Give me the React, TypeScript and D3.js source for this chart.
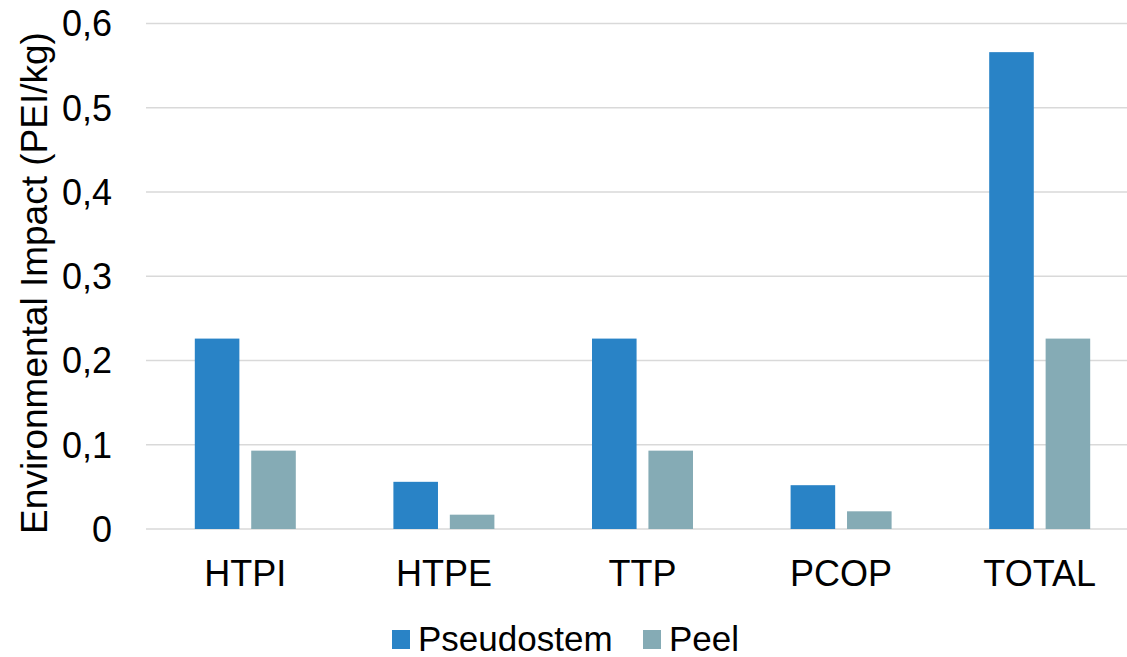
import React from "react";
import * as d3 from "d3";

const categories = ["HTPI", "HTPE", "TTP", "PCOP", "TOTAL"];
const seriesNames = ["Pseudostem", "Peel"];
const pseudostem = [0.226, 0.056, 0.226, 0.052, 0.566];
const peel = [0.093, 0.017, 0.093, 0.021, 0.226];
const yTicks = [0, 0.1, 0.2, 0.3, 0.4, 0.5, 0.6];
const colors = ["#2983C6", "#85ABB5"];

const W = 1127;
const H = 657;
const FONT = "'Liberation Sans', Arial, sans-serif";

export default function App() {
  const plotLeft = 146;
  const plotRight = 1139;
  const y = d3.scaleLinear().domain([0, 0.6]).range([529, 23.5]);
  const x0 = d3.scaleBand<string>().domain(categories).range([plotLeft, plotRight]).padding(0);
  const groupW = 101;
  const x1 = d3.scaleBand<string>().domain(seriesNames).range([0, groupW]).paddingInner(0.21);
  const values = [pseudostem, peel];
  const fmt = (v: number) => (v === 0 ? "0" : d3.format(".1f")(v).replace(".", ","));

  return (
    <svg
      width={W}
      height={H}
      style={{ position: "absolute", left: 0, top: 0, background: "#fff" }}
      fontFamily={FONT}
    >
      {/* horizontal gridlines */}
      {yTicks.map((t) => (
        <line
          key={"g" + t}
          x1={plotLeft}
          x2={W}
          y1={y(t)}
          y2={y(t)}
          stroke="#D9D9D9"
          strokeWidth={1.5}
        />
      ))}
      {/* y tick labels */}
      {yTicks.map((t) => (
        <text
          key={"t" + t}
          x={112}
          y={y(t)}
          dy="0.36em"
          textAnchor="end"
          fontSize={36}
          fill="#000"
        >
          {fmt(t)}
        </text>
      ))}
      {/* bars */}
      {categories.map((c, i) => {
        const center = (x0(c) as number) + x0.bandwidth() / 2;
        return seriesNames.map((s, j) => {
          const v = values[j][i];
          return (
            <rect
              key={c + s}
              x={center - groupW / 2 + (x1(s) as number)}
              y={y(v)}
              width={x1.bandwidth()}
              height={y(0) - y(v)}
              fill={colors[j]}
            />
          );
        });
      })}
      {/* category labels */}
      {categories.map((c) => (
        <text
          key={"c" + c}
          x={(x0(c) as number) + x0.bandwidth() / 2}
          y={586}
          textAnchor="middle"
          fontSize={36}
          fill="#000"
        >
          {c}
        </text>
      ))}
      {/* y axis title */}
      <text
        transform={`translate(47, 283) rotate(-90)`}
        textAnchor="middle"
        fontSize={37}
        fill="#000"
      >
        Environmental Impact (PEI/kg)
      </text>
      {/* legend */}
      <g>
        <rect x={392} y={630} width={18} height={19} fill={colors[0]} />
        <text x={418} y={651} fontSize={35} fill="#000">
          {seriesNames[0]}
        </text>
        <rect x={643} y={630} width={18} height={19} fill={colors[1]} />
        <text x={669} y={651} fontSize={35} fill="#000">
          {seriesNames[1]}
        </text>
      </g>
    </svg>
  );
}
